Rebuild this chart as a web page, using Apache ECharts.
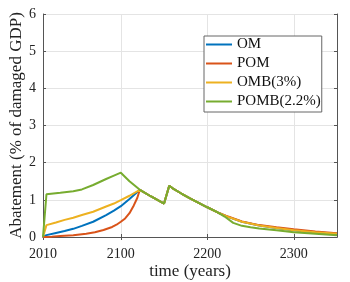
<!DOCTYPE html>
<html><head><meta charset="utf-8">
<script src="https://cdn.jsdelivr.net/npm/echarts@6/dist/echarts.min.js"></script>
<style>html,body{margin:0;padding:0;background:#fff}#c{width:350px;height:282px}</style>
</head><body><div id="c"></div>
<script>
var seriesNames = ['OM', 'POM', 'OMB(3%)', 'POMB(2.2%)'];
var xTickLabels = [2010, 2100, 2200, 2300];
var yTickLabels = [0, 1, 2, 3, 4, 5, 6];

// head segments (2010 -> convergence ~2122)
var omHeadYears = [2010, 2014, 2025, 2035, 2045, 2055, 2068, 2083, 2092, 2100, 2110, 2122];
var omHeadVals  = [0, 0.05, 0.11, 0.16, 0.22, 0.30, 0.41, 0.59, 0.71, 0.83, 1.02, 1.27];
var pomHeadYears = [2010, 2020, 2030, 2045, 2060, 2070, 2080, 2090, 2095, 2100, 2105, 2110, 2115, 2119, 2122];
var pomHeadVals  = [0, 0.01, 0.03, 0.05, 0.09, 0.13, 0.19, 0.27, 0.33, 0.41, 0.50, 0.64, 0.85, 1.05, 1.27];
var ombHeadYears = [2010, 2014, 2025, 2035, 2045, 2055, 2068, 2083, 2092, 2100, 2110, 2122];
var ombHeadVals  = [0, 0.32, 0.39, 0.46, 0.52, 0.59, 0.68, 0.82, 0.90, 0.99, 1.11, 1.27];
var pombHeadYears = [2010, 2014, 2030, 2045, 2055, 2068, 2083, 2092, 2100, 2110, 2122];
var pombHeadVals  = [0, 1.15, 1.19, 1.23, 1.28, 1.40, 1.56, 1.65, 1.73, 1.50, 1.27];

// shared middle segment (all scenarios overlap)
var sharedYears = [2135, 2150, 2156, 2160, 2170, 2180, 2190, 2200, 2212];
var sharedVals  = [1.09, 0.90, 1.38, 1.31, 1.17, 1.04, 0.92, 0.80, 0.66];

// tail segments
var omTailYears = [2224, 2240, 2260, 2280, 2300, 2325, 2350];
var omTailVals  = [0.54, 0.41, 0.31, 0.24, 0.18, 0.13, 0.09];
var pomTailYears = [2224, 2240, 2260, 2280, 2300, 2325, 2350];
var pomTailVals  = [0.55, 0.42, 0.32, 0.26, 0.21, 0.15, 0.10];
var ombTailYears = [2224, 2240, 2260, 2280, 2300, 2325, 2350];
var ombTailVals  = [0.54, 0.41, 0.31, 0.24, 0.18, 0.13, 0.09];
var pombTailYears = [2220, 2230, 2240, 2250, 2260, 2280, 2300, 2325, 2350];
var pombTailVals  = [0.55, 0.38, 0.30, 0.26, 0.23, 0.18, 0.13, 0.09, 0.05];

var colors = ['#0072BD', '#D95319', '#EDB120', '#77AC30'];

function pairs(ys, vs) { return ys.map(function (y, i) { return [y, vs[i]]; }); }
function build(hy, hv, ty, tv) {
  return pairs(hy, hv).concat(pairs(sharedYears, sharedVals), pairs(ty, tv));
}
var dataSets = [
  build(omHeadYears, omHeadVals, omTailYears, omTailVals),
  build(pomHeadYears, pomHeadVals, pomTailYears, pomTailVals),
  build(ombHeadYears, ombHeadVals, ombTailYears, ombTailVals),
  build(pombHeadYears, pombHeadVals, pombTailYears, pombTailVals)
];

var font = 'Liberation Serif';
var axisCol = '#555';
var gridCol = '#e4e4e4';

var chart = echarts.init(document.getElementById('c'), null, {renderer: 'canvas'});
chart.setOption({
  animation: false,
  backgroundColor: '#fff',
  grid: {left: 43, right: 13, top: 14, bottom: 45, containLabel: false, outerBoundsMode: 'none'},
  legend: {
    show: true, orient: 'vertical', left: 204, top: 36,
    data: seriesNames,
    icon: 'rect', itemWidth: 26, itemHeight: 2, itemGap: 4,
    padding: [1, 1, 3, 2],
    borderColor: '#666', borderWidth: 1, backgroundColor: '#fff',
    textStyle: {fontFamily: font, fontSize: 15, color: '#111', lineHeight: 14}
  },
  xAxis: [{
    type: 'value', min: 2010, max: 2350, position: 'bottom',
    name: 'time (years)', nameLocation: 'middle', nameGap: 26, nameMoveOverlap: false,
    nameTextStyle: {fontFamily: font, fontSize: 17, color: '#222'},
    axisLine: {show: true, lineStyle: {color: axisCol}},
    axisTick: {show: true, inside: true, length: 3, lineStyle: {color: axisCol}, customValues: xTickLabels},
    axisLabel: {fontFamily: font, fontSize: 14, color: '#222', margin: 10, customValues: xTickLabels, formatter: function (v) { return String(v); }},
    splitLine: {show: true, lineStyle: {color: gridCol}}
  }, {
    type: 'value', min: 2010, max: 2350, position: 'top',
    axisLine: {show: true, lineStyle: {color: axisCol}},
    axisTick: {show: true, inside: true, length: 3, lineStyle: {color: axisCol}, customValues: xTickLabels},
    axisLabel: {show: false, customValues: xTickLabels},
    splitLine: {show: false}
  }],
  yAxis: [{
    type: 'value', min: 0, max: 6, interval: 1, position: 'left',
    name: 'Abatement (% of damaged GDP)', nameLocation: 'middle', nameGap: 18, nameMoveOverlap: false,
    nameTextStyle: {fontFamily: font, fontSize: 17, color: '#222'},
    axisLine: {show: true, lineStyle: {color: axisCol}},
    axisTick: {show: true, inside: true, length: 3, lineStyle: {color: axisCol}},
    axisLabel: {fontFamily: font, fontSize: 14, color: '#222', margin: 7},
    splitLine: {show: true, lineStyle: {color: gridCol}}
  }, {
    type: 'value', min: 0, max: 6, interval: 1, position: 'right',
    axisLine: {show: true, lineStyle: {color: axisCol}},
    axisTick: {show: true, inside: true, length: 3, lineStyle: {color: axisCol}},
    axisLabel: {show: false},
    splitLine: {show: false}
  }],
  series: seriesNames.map(function (n, i) {
    return {
      name: n, type: 'line', xAxisIndex: 0, yAxisIndex: 0,
      data: dataSets[i], showSymbol: false, symbol: 'none',
      color: colors[i], lineStyle: {width: 2, color: colors[i]}, z: 2 + i
    };
  })
});
</script></body></html>
